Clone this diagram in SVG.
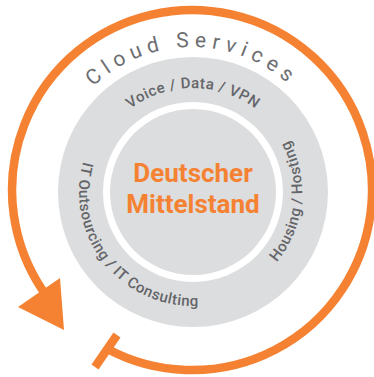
<svg xmlns="http://www.w3.org/2000/svg" width="374" height="377" viewBox="0 0 374 377">
<defs>
<style>
.ring{font-family:Roboto,"Liberation Sans",sans-serif;fill:#646569;font-size:15px;font-weight:500;letter-spacing:0.5px}
.cloud{font-family:Roboto,"Liberation Sans",sans-serif;fill:#6d6e71;font-size:21px;letter-spacing:5.7px}
.center{font-family:Roboto,"Liberation Sans",sans-serif;fill:#f58232;font-size:26px;font-weight:bold}
.orange{stroke:#f58232;stroke-width:8.5;fill:none}
</style>
<path id="cloudPath" d="M 49 190 A 143 143 0 0 1 335 190"/>
<path id="topPath" d="M 89 192 A 104 104 0 0 1 297 192"/>
<path id="rightPath" d="M 191.6 301 A 109 109 0 0 0 213.3 84.9"/>
<path id="leftPath" d="M 156.5 84 A 114 114 0 1 0 290.4 251.2"/>
</defs>
<g id="cycle">
<path class="orange" d="M 107.5 348.9 A 180 180 0 1 0 42.8 290.6"/>
<line class="orange" x1="95" y1="367" x2="117" y2="335"/>
<polygon points="18,307 60,278 64,330" fill="#f58232"/>
</g>
<g id="ring">
<circle cx="193" cy="192" r="135" fill="#dcddde"/>
<circle cx="193" cy="192" r="90" fill="#ffffff"/>
<circle cx="193" cy="192" r="83" fill="#dcddde"/>
</g>
<g id="labels">
<text class="cloud"><textPath href="#cloudPath" startOffset="50%" text-anchor="middle">Cloud Services</textPath></text>
<text class="ring"><textPath href="#topPath" startOffset="50%" text-anchor="middle">Voice / Data / VPN</textPath></text>
<text class="ring"><textPath href="#rightPath" startOffset="50%" text-anchor="middle">Housing / Hosting</textPath></text>
<text class="ring"><textPath href="#leftPath" startOffset="50%" text-anchor="middle">IT Outsourcing / IT Consulting</textPath></text>
</g>
<g id="center">
<text class="center" x="193" y="182" text-anchor="middle">Deutscher</text>
<text class="center" x="193" y="213" text-anchor="middle">Mittelstand</text>
</g>
</svg>
